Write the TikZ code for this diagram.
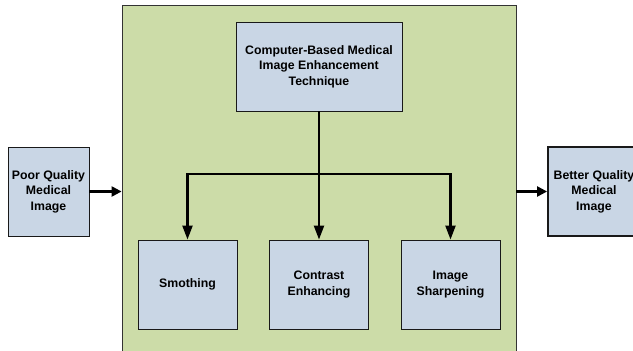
\documentclass[tikz,border=0pt]{standalone}
\usepackage{fontspec}
\setmainfont{Liberation Sans}
\usepackage{xcolor}
\usepackage{tikz}
\usetikzlibrary{arrows.meta,positioning,calc}

\definecolor{boxblue}{RGB}{201,214,229}
\definecolor{panelgreen}{RGB}{204,220,168}

\begin{document}
\begin{tikzpicture}[
    x=1pt, y=-1pt,
    box/.style={draw=black!90, fill=boxblue, line width=0.9pt,
                minimum width=81pt, minimum height=89pt,
                align=center, inner sep=2pt,
                font=\bfseries\fontsize{12.3}{15.5}\selectfont},
    panel/.style={draw=black!80, fill=panelgreen, line width=0.8pt,
                  minimum width=394pt, minimum height=360pt},
    arr/.style={-{Triangle[length=10pt, width=10pt]}, line width=2.2pt},
    varr/.style={-{Triangle[length=14pt, width=10pt]}, line width=2.2pt},
  ]
    \useasboundingbox (0,0) rectangle (633,351);
    \clip (0,0) rectangle (633,351);

    % the enhancement stage
    \node[panel] (stage) at (319,185) {};
    \node[box, minimum width=166pt] (tech) at (319,66.5)
      {Computer-Based Medical \\ Image Enhancement \\ Technique};
    \node[box, minimum width=99pt] (smooth)   at (187.5,284.5) {Smothing};
    \node[box, minimum width=99pt] (contrast) at (319,284.5)   {Contrast \\ Enhancing};
    \node[box, minimum width=99pt] (sharpen)  at (450.5,284.5) {Image \\ Sharpening};

    % input and output
    \node[box] (poor) at (48.5,191.5) {Poor Quality \\ Medical \\ Image};
    \node[box, minimum width=92pt, line width=1.8pt] (better) at (594,191.5)
      {Better Quality \\ Medical \\ Image};

    % branches
    \coordinate (split) at (319,174);
    \draw[line width=2.2pt] (tech) -- (split);
    \draw[varr] (split) -| (smooth);
    \draw[varr] (split) -- (contrast);
    \draw[varr] (split) -| (sharpen);

    \draw[arr] (poor.east) -- (poor.east -| stage.west);
    \draw[arr] (better.west -| stage.east) -- (better.west);
  \end{tikzpicture}
\end{document}
